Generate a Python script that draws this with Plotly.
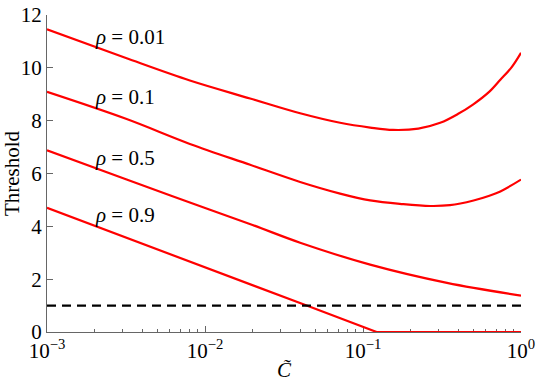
import math
import plotly.graph_objects as go

# data (C on a log axis)
c_rho001 = [0.001, 0.00316, 0.00802, 0.0193, 0.040, 0.0716, 0.111, 0.155, 0.224, 0.308, 0.398, 0.499, 0.631, 0.74, 0.871, 1.0]
t_rho001 = [11.46, 10.37, 9.52, 8.84, 8.28, 7.92, 7.74, 7.65, 7.70, 7.92, 8.25, 8.62, 9.10, 9.55, 10.02, 10.57]

c_rho01 = [0.001, 0.00316, 0.00802, 0.0193, 0.040, 0.0716, 0.111, 0.178, 0.266, 0.355, 0.501, 0.631, 0.74, 1.0]
t_rho01 = [9.09, 8.07, 7.12, 6.33, 5.68, 5.24, 4.98, 4.84, 4.77, 4.80, 4.98, 5.16, 5.32, 5.77]

c_rho05 = [0.001, 0.00316, 0.00802, 0.020, 0.040, 0.111, 0.34, 1.0]
t_rho05 = [6.88, 5.78, 4.90, 4.05, 3.38, 2.55, 1.86, 1.38]

c_rho09 = [0.001, 0.00802, 0.044, 0.122, 0.316, 1.0]
t_rho09 = [4.70, 2.65, 1.0, 0.0, 0.0, 0.0]

c_ref = [0.001, 1.0]
t_ref = [1.0, 1.0]

labels = ["ρ = 0.01", "ρ = 0.1", "ρ = 0.5", "ρ = 0.9"]
label_c = [0.00195, 0.00195, 0.00195, 0.00195]
label_t = [11.15, 8.88, 6.6, 4.42]

x_tickvals = [0.001, 0.01, 0.1, 1]
x_ticktext = ["10<sup>−3</sup>", "10<sup>−2</sup>", "10<sup>−1</sup>", "10<sup>0</sup>"]
x_minor = [m * 10 ** e for e in (-3, -2, -1) for m in range(2, 10)]
y_tickvals = [0, 2, 4, 6, 8, 10, 12]

FONT = "Liberation Serif"
RED = "#ff0000"
AX = "#666666"

fig = go.Figure()
curves = [(c_rho001, t_rho001, "spline"), (c_rho01, t_rho01, "spline"),
          (c_rho05, t_rho05, "spline"), (c_rho09, t_rho09, "linear")]
for cx, ty, shp in curves:
    fig.add_trace(go.Scatter(x=cx, y=ty, mode="lines", cliponaxis=False,
                             line=dict(color=RED, width=2.2, shape=shp, smoothing=1.0)))

fig.add_trace(go.Scatter(x=c_ref, y=t_ref, mode="lines",
                         line=dict(color="black", width=2.4, dash="9px,6px")))

for txt, cx, ty in zip(labels, label_c, label_t):
    name, val = txt.split(" = ")
    fig.add_annotation(x=math.log10(cx), y=ty, xref="x", yref="y",
                       text=f"<i>{name}</i> = {val}", showarrow=False,
                       xanchor="left", yanchor="middle",
                       font=dict(family=FONT, size=21, color="black"))

fig.update_layout(
    width=539, height=388,
    margin=dict(l=47, r=18, t=15, b=56, autoexpand=False),
    plot_bgcolor="white", paper_bgcolor="white",
    showlegend=False,
    font=dict(family=FONT, size=21, color="black"),
    xaxis=dict(type="log", range=[-3, 0], tickvals=x_tickvals, ticktext=x_ticktext,
               showline=True, linecolor=AX, linewidth=1.2, layer="below traces",
               ticks="inside", ticklen=6, tickcolor=AX,
               showgrid=False, zeroline=False, automargin=False,
               title=dict(text="<i>C̃</i>", standoff=0, font=dict(family=FONT, size=21))),
    # second x axis only carries the minor log ticks
    xaxis2=dict(type="log", range=[-3, 0], overlaying="x", side="bottom", anchor="y",
                tickvals=x_minor, showticklabels=False, showline=False,
                ticks="inside", ticklen=3, tickcolor=AX, layer="below traces",
                showgrid=False, zeroline=False, automargin=False),
    yaxis=dict(range=[0, 12], tickvals=y_tickvals,
               showline=True, linecolor=AX, linewidth=1.2, layer="below traces",
               ticks="inside", ticklen=6, tickcolor=AX,
               showgrid=False, zeroline=False, automargin=False,
               title=dict(text="Threshold", standoff=2, font=dict(family=FONT, size=21))),
)
# dummy trace so the minor-tick axis is drawn
fig.add_trace(go.Scatter(x=c_ref, y=t_ref, xaxis="x2", mode="lines",
                         line=dict(width=0), hoverinfo="skip"))

fig.write_html("out.html", config={"displayModeBar": False},
               post_script="document.body.style.margin='0';")
